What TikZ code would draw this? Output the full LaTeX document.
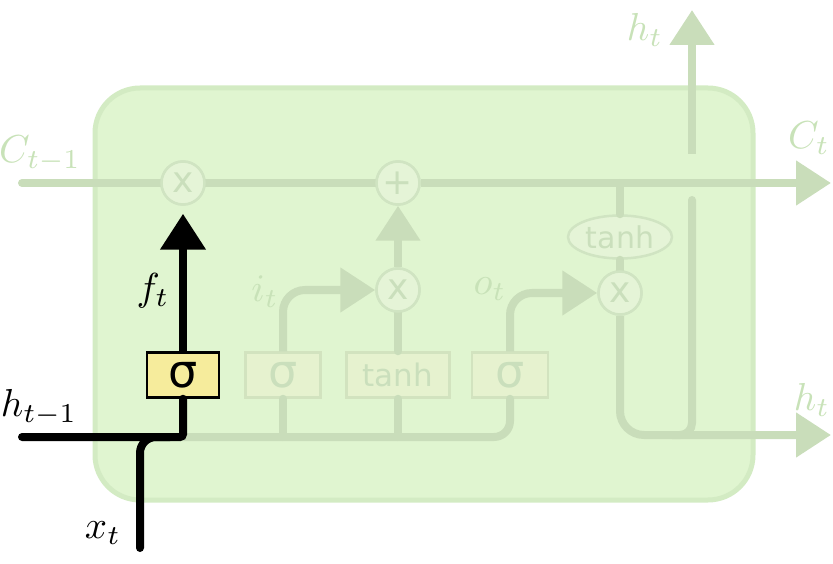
\documentclass[tikz,border=0pt]{standalone}
\usepackage{fontspec}
\newfontfamily\dejavu{DejaVu Sans}
\usetikzlibrary{arrows.meta,shapes.geometric}
\definecolor{cellfill}{HTML}{E0F5D0}
\definecolor{cellborder}{HTML}{D3EBC3}
\definecolor{fline}{HTML}{C9DDBA}
\definecolor{opfill}{HTML}{E5F4D7}
\definecolor{opborder}{HTML}{D0E4C2}
\definecolor{ftext}{HTML}{CADFBC}
\definecolor{flab}{HTML}{C8E2B8}
\definecolor{fboxfill}{HTML}{E6F2CF}
\definecolor{fboxborder}{HTML}{D2E3BF}
\definecolor{yellowfill}{HTML}{F6EC9C}
\tikzset{
  cellbox/.style={draw=cellborder, fill=cellfill, line width=5pt, rounded corners=45pt, minimum width=658pt, minimum height=412pt, inner sep=0pt},
  fadedline/.style={draw=fline, line width=8pt, line cap=round},
  blackline/.style={draw=black, line width=8pt, line cap=round},
  fadedarrow/.style={-{Triangle[length=35pt,width=43pt]}, line cap=butt},
  blackarrow/.style={-{Triangle[length=36pt,width=44pt]}, line cap=butt},
  opcircle/.style={circle, draw=opborder, fill=opfill, line width=2.5pt, minimum size=43pt, inner sep=0pt, text=ftext, font=\dejavu\fontsize{36}{36}\selectfont},
  opellipse/.style={ellipse, draw=opborder, fill=opfill, line width=2.5pt, minimum width=104pt, minimum height=43pt, inner sep=0pt, text=ftext, font=\dejavu\fontsize{30}{30}\selectfont},
  fadedbox/.style={rectangle, draw=fboxborder, fill=fboxfill, line width=2.5pt, minimum height=45pt, inner sep=0pt, text=ftext},
  sigfont/.style={font=\dejavu\fontsize{46}{46}\selectfont},
  tanhfont/.style={font=\dejavu\fontsize{31}{31}\selectfont},
  yellowbox/.style={rectangle, draw=black, fill=yellowfill, line width=2.5pt, minimum height=45pt, minimum width=72pt, inner sep=0pt},
  fadedlabel/.style={text=flab, scale=3.9, inner sep=0pt},
  blacklabel/.style={text=black, scale=3.9, inner sep=0pt},
}
\begin{document}
\begin{tikzpicture}[x=1pt,y=-1pt]
\useasboundingbox (0,0) rectangle (833,564);
% cell
\node[cellbox] (cell) at (424,294) {};
% operation nodes
\node[opcircle] (mulf) at (183,183) {x};
\node[opcircle] (add) at (398,183) {+};
\node[opcircle] (muli) at (398,290) {x};
\node[opcircle] (mulo) at (620,293) {x};
\node[opellipse] (tanhC) at (620,237) {tanh};
% gate boxes
\node[fadedbox, sigfont, minimum width=75pt] (sigi) at (283,375) {σ};
\node[fadedbox, tanhfont, minimum width=103pt] (tanhbox) at (398,375) {tanh};
\node[fadedbox, sigfont, minimum width=76pt] (sigo) at (510,375) {σ};
\node[yellowbox, sigfont] (sigf) at (183,375) {σ};
% coordinates
\coordinate (cin) at (22,183);
\coordinate (cout) at (831,183);
\coordinate (ctap) at (620,183);
\coordinate (hin) at (22,437);
\coordinate (hjoin) at (183,437);
\coordinate (xin) at (140,548);
\coordinate (xjoin) at (170,437);
\coordinate (hout) at (831,435);
\coordinate (hvb) at (692,200);
\coordinate (hvc) at (672,435);
\coordinate (hvt) at (692,154);
\coordinate (htop) at (692,10);
% faded connectors
\draw[fadedline] (cin) -- (mulf);
\draw[fadedline] (mulf) -- (add);
\draw[fadedline, fadedarrow] (add) -- (cout);
\draw[fadedline, rounded corners=16pt] (hjoin) -| (sigo.south);
\draw[fadedline] (sigi.south) -- (sigi.south |- hjoin);
\draw[fadedline] (tanhbox.south) -- (tanhbox.south |- hjoin);
\draw[fadedline, fadedarrow, rounded corners=22pt] (sigi.north) |- (muli.west);
\draw[fadedline, fadedarrow, rounded corners=22pt] (sigo.north) |- (mulo.west);
\draw[fadedline] (tanhbox.north) -- (muli.south);
\draw[fadedline, fadedarrow] (muli.north) -- (add.south);
\draw[fadedline] (ctap) -- (tanhC.north);
\draw[fadedline] (tanhC.south) -- (mulo.north);
\draw[fadedline, fadedarrow, rounded corners=24pt] (mulo.south) |- (hout);
\draw[fadedline, rounded corners=12pt] (hvb) |- (hvc);
\draw[fadedline, fadedarrow] (hvt) -- (htop);
% redraw nodes on top of line ends
\node[opcircle] at (mulf) {x};
\node[opcircle] at (add) {+};
\node[opcircle] at (muli) {x};
\node[opcircle] at (mulo) {x};
% black path
\draw[blackline, rounded corners=16pt] (xin) |- (xjoin);
\draw[blackline, rounded corners=3pt] (hin) -- (hjoin) -- (sigf.south);
\draw[blackline, blackarrow, shorten >=8pt] (sigf.north) -- (mulf.south);
% labels
\node[fadedlabel] (lc1) at (40,154) {$C_{t-1}$};
\node[fadedlabel] (lct) at (809,138) {$C_t$};
\node[fadedlabel] (lht) at (645,30) {$h_t$};
\node[fadedlabel] (lhb) at (812,400) {$h_t$};
\node[fadedlabel] (li) at (265,292) {$i_t$};
\node[fadedlabel] (lo) at (490,289) {$o_t$};
\node[blacklabel] (lf) at (153,291) {$f_t$};
\node[blacklabel] (lh1) at (39,408) {$h_{t-1}$};
\node[blacklabel] (lx) at (103,533) {$x_t$};
\end{tikzpicture}
\end{document}
